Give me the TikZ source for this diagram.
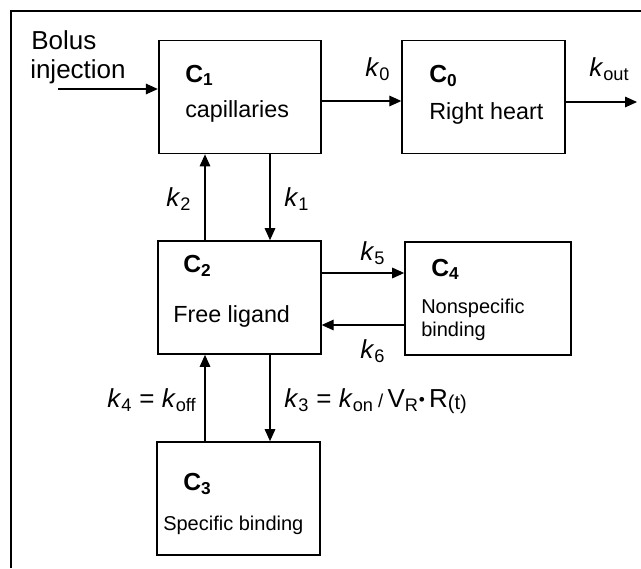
\documentclass[tikz,border=0pt]{standalone}
\usepackage{fontspec}
\setmainfont{Liberation Sans}
\usetikzlibrary{arrows.meta}
\tikzset{
  >={Triangle[length=9pt, width=8pt]},
  comp/.style={draw, line width=1.3pt, minimum width=122pt, minimum height=84.75pt, inner sep=0pt},
  cname/.style={anchor=base west, inner sep=0pt, font=\fontsize{18.5}{20}\selectfont\bfseries},
  ctext/.style={anchor=base west, inner sep=0pt, font=\fontsize{17.5}{20}\selectfont},
  csmall/.style={anchor=base west, inner sep=0pt, font=\fontsize{15}{17}\selectfont},
  klab/.style={anchor=base west, inner sep=0pt, font=\fontsize{19.5}{22}\selectfont},
  flow/.style={->, line width=0.8pt},
  frame/.style={line width=2.2pt},
}
\begin{document}
\begin{tikzpicture}[x=0.75pt, y=-0.75pt]
  \useasboundingbox (0,0) rectangle (641,568);
  \draw[frame] (11,568) -- (11,11) -- (641,11);
  % compartments (pixel grid, y pointing down)
  \node[comp] (c1) at (240,97) {};
  \node[comp] (c0) at (483.5,97) {};
  \node[comp] (c2) at (239.5,297.5) {};
  \node[comp, minimum width=124.5pt] (c4) at (488,298.5) {};
  \node[comp] (c3) at (238.5,498.5) {};
  % names and contents
  \node[cname] (c1name) at (185,82) {C\textsubscript{1}};
  \node[ctext] (c1txt) at (185,117) {capillaries};
  \node[cname] (c0name) at (429,82) {C\textsubscript{0}};
  \node[ctext] (c0txt) at (429,119) {Right heart};
  \node[cname] (c2name) at (183,272) {C\textsubscript{2}};
  \node[ctext] (c2txt) at (173,322) {Free ligand};
  \node[cname] (c4name) at (431,276) {C\textsubscript{4}};
  \node[csmall] (c4txt) at (421,313) {Nonspecific};
  \node[csmall] (c4txtb) at (421,336) {binding};
  \node[cname] (c3name) at (183,490) {C\textsubscript{3}};
  \node[csmall] (c3txt) at (163,530) {Specific binding};
  % input
  \node[anchor=base west, inner sep=0pt, font=\fontsize{19.5}{22}\selectfont] (bolus) at (31,49) {Bolus};
  \node[anchor=base west, inner sep=0pt, font=\fontsize{19.5}{22}\selectfont] (inj) at (30,78) {injection};
  \coordinate (bolusin) at (58,89);
  \coordinate (outend) at (637,102);
  % transfers
  \draw[flow] (bolusin) -- (bolusin -| c1.west);
  \draw[flow] (c1.east |- 0,101) -- (c0.west |- 0,101);
  \draw[flow] (c0.east |- outend) -- (outend);
  \draw[flow] (c1.south -| 270,0) -- (c2.north -| 270,0);
  \draw[flow] (c2.north -| 205,0) -- (c1.south -| 205,0);
  \draw[flow] (c2.south -| 270,0) -- (c3.north -| 270,0);
  \draw[flow] (c3.north -| 205,0) -- (c2.south -| 205,0);
  \draw[flow] (c2.east |- 0,273) -- (c4.west |- 0,273);
  \draw[flow] (c4.west |- 0,325) -- (c2.east |- 0,325);
  % rate constants
  \foreach \n/\x/\y/\t in {k0/365/76/{\textit{k}\textsubscript{0}}, kout/589/76/{\textit{k}\textsubscript{out}},
                           k2/166/206/{\textit{k}\textsubscript{2}}, k1/284/206/{\textit{k}\textsubscript{1}},
                           k5/360/260/{\textit{k}\textsubscript{5}}, k6/360/358/{\textit{k}\textsubscript{6}},
                           k4/107/407/{\textit{k}\textsubscript{4} = \textit{k}\textsubscript{off}}}
    \node[klab] (\n) at (\x,\y) {\t};
  \node[klab] (k3) at (284,407) {\textit{k}\textsubscript{3} = \textit{k}\textsubscript{on}\,{\fontsize{14}{15}\selectfont/}\,V\textsubscript{R}\raisebox{1pt}{\fontsize{13}{13}\selectfont•}\,R\raisebox{-1.5pt}{\fontsize{15}{15}\selectfont(t)}};
\end{tikzpicture}
\end{document}
